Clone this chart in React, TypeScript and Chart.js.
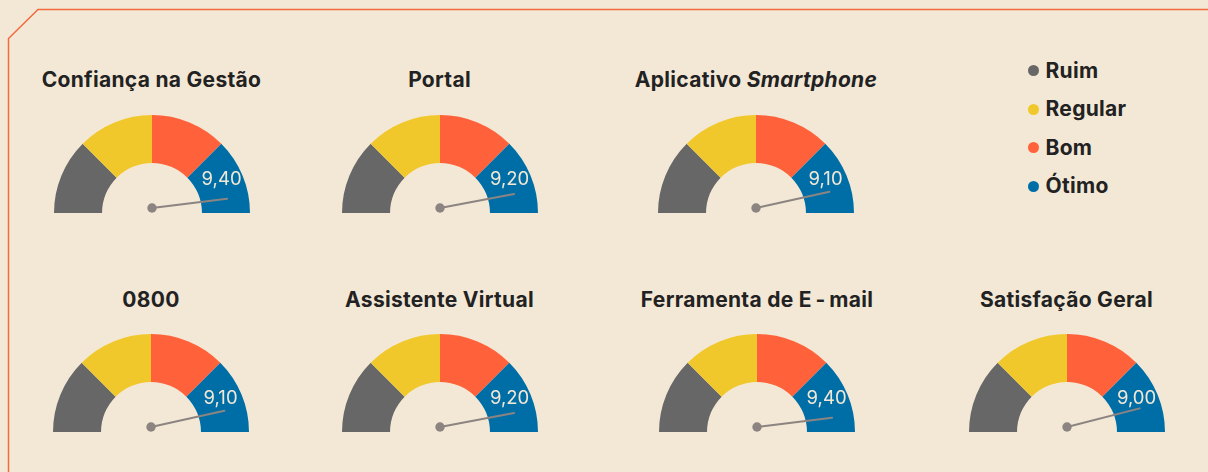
import React, { useEffect, useRef } from "react";
import { Chart, registerables } from "chart.js";

Chart.register(...registerables);

// ---- data ----
const gaugeTitles = [
  "Confiança na Gestão",
  "Portal",
  "Aplicativo Smartphone",
  "0800",
  "Assistente Virtual",
  "Ferramenta de E\u2009-\u2009mail",
  "Satisfação Geral",
];
const gaugeValues = [9.4, 9.2, 9.1, 9.1, 9.2, 9.4, 9.0];
const bandLabels = ["Ruim", "Regular", "Bom", "Ótimo"];
const bandWidths = [2.5, 2.5, 2.5, 2.5];
const gaugeMax = 10;

// ---- style / layout ----
const bandColors = ["#676767", "#F1C82B", "#FF623A", "#006EA6"];
const BG = "#F3E8D6";
const TEXT = "#222222";
const FONT = "Inter, 'Noto Sans', sans-serif";
const R = 98;
const slots = [
  { cx: 151.5, baseY: 213, titleY: 80 },
  { cx: 439.5, baseY: 213, titleY: 80 },
  { cx: 756, baseY: 213, titleY: 80 },
  { cx: 151, baseY: 432, titleY: 300 },
  { cx: 439.5, baseY: 432, titleY: 300 },
  { cx: 757, baseY: 432, titleY: 300 },
  { cx: 1066.5, baseY: 432, titleY: 300 },
];

const needlePlugin = {
  id: "gaugeNeedle",
  afterDatasetsDraw(chart: any, _args: any, opts: any) {
    const meta = chart.getDatasetMeta(0);
    const arc = meta.data[0];
    if (!arc) return;
    const { x, y, outerRadius } = arc.getProps(["x", "y", "outerRadius"], true);
    const ctx = chart.ctx;
    const theta = Math.PI * (1 - opts.value / opts.max);
    const len = outerRadius * 0.78;
    const tipX = x + len * Math.cos(theta);
    const tipY = y - len * Math.sin(theta);
    const px = x;
    const py = y - 5;
    ctx.save();
    ctx.strokeStyle = "#8C8481";
    ctx.fillStyle = "#8C8481";
    ctx.lineWidth = 2;
    ctx.lineCap = "round";
    ctx.beginPath();
    ctx.moveTo(px, py);
    ctx.lineTo(tipX, tipY);
    ctx.stroke();
    ctx.beginPath();
    ctx.arc(px, py, 4.7, 0, Math.PI * 2);
    ctx.fill();
    // value label
    const la = (26 * Math.PI) / 180;
    const lr = outerRadius * 0.79;
    const lx = x + lr * Math.cos(la);
    const ly = y - lr * Math.sin(la);
    ctx.fillStyle = "#F3E8D6";
    ctx.font = `400 18.5px ${FONT}`;
    ctx.textAlign = "center";
    ctx.textBaseline = "middle";
    ctx.fillText(opts.value.toFixed(2).replace(".", ","), lx, ly);
    ctx.restore();
  },
};

function Gauge({ index }: { index: number }) {
  const ref = useRef<HTMLCanvasElement | null>(null);
  useEffect(() => {
    if (!ref.current) return;
    const chart = new Chart(ref.current, {
      type: "doughnut",
      data: {
        labels: bandLabels,
        datasets: [
          {
            data: bandWidths,
            backgroundColor: bandColors,
            borderWidth: 0,
          },
        ],
      },
      options: {
        responsive: false,
        animation: false,
        rotation: -90,
        circumference: 180,
        cutout: "51%",
        layout: { padding: 0 },
        events: [],
        plugins: {
          legend: { display: false },
          tooltip: { enabled: false },
          gaugeNeedle: { value: gaugeValues[index], max: gaugeMax },
        } as any,
      },
      plugins: [needlePlugin],
    });
    return () => chart.destroy();
  }, [index]);
  const s = slots[index];
  return (
    <canvas
      ref={ref}
      width={2 * R}
      height={R}
      style={{
        position: "absolute",
        left: s.cx - R,
        top: s.baseY - R,
        width: 2 * R,
        height: R,
      }}
    />
  );
}

function Title({ index }: { index: number }) {
  const s = slots[index];
  const t = gaugeTitles[index];
  let content: React.ReactNode = t;
  if (t.endsWith("Smartphone")) {
    content = (
      <>
        {t.replace("Smartphone", "")}
        <i>Smartphone</i>
      </>
    );
  }
  return (
    <div
      style={{
        position: "absolute",
        left: s.cx - 160,
        width: 320,
        top: s.titleY - 13,
        height: 26,
        lineHeight: "26px",
        textAlign: "center",
        fontFamily: FONT,
        fontWeight: 700,
        fontSize: 21,
        letterSpacing: 0.3,
        color: TEXT,
        whiteSpace: "nowrap",
      }}
    >
      {content}
    </div>
  );
}

export default function App() {
  return (
    <div
      style={{
        position: "fixed",
        left: 0,
        top: 0,
        width: 1208,
        height: 472,
        background: BG,
        overflow: "hidden",
      }}
    >
      <svg
        width={1208}
        height={472}
        style={{ position: "absolute", left: 0, top: 0 }}
      >
        <polyline
          points="8.5,472 8.5,38.5 38,9.5 1208,9.5"
          fill="none"
          stroke="#F26A3F"
          strokeWidth={1.5}
        />
      </svg>
      {gaugeTitles.map((_, i) => (
        <Title key={"t" + i} index={i} />
      ))}
      {gaugeTitles.map((_, i) => (
        <Gauge key={"g" + i} index={i} />
      ))}
      {bandLabels.map((lab, i) => (
        <div
          key={lab}
          style={{
            position: "absolute",
            left: 1027.5,
            top: 70.5 + i * 38.5 - 13,
            height: 26,
            lineHeight: "26px",
            display: "flex",
            alignItems: "center",
            fontFamily: FONT,
            fontWeight: 700,
            fontSize: 21,
            letterSpacing: 0.3,
            color: TEXT,
          }}
        >
          <span
            style={{
              display: "inline-block",
              width: 11,
              height: 11,
              borderRadius: "50%",
              background: bandColors[i],
              marginRight: 7,
            }}
          />
          {lab}
        </div>
      ))}
    </div>
  );
}
